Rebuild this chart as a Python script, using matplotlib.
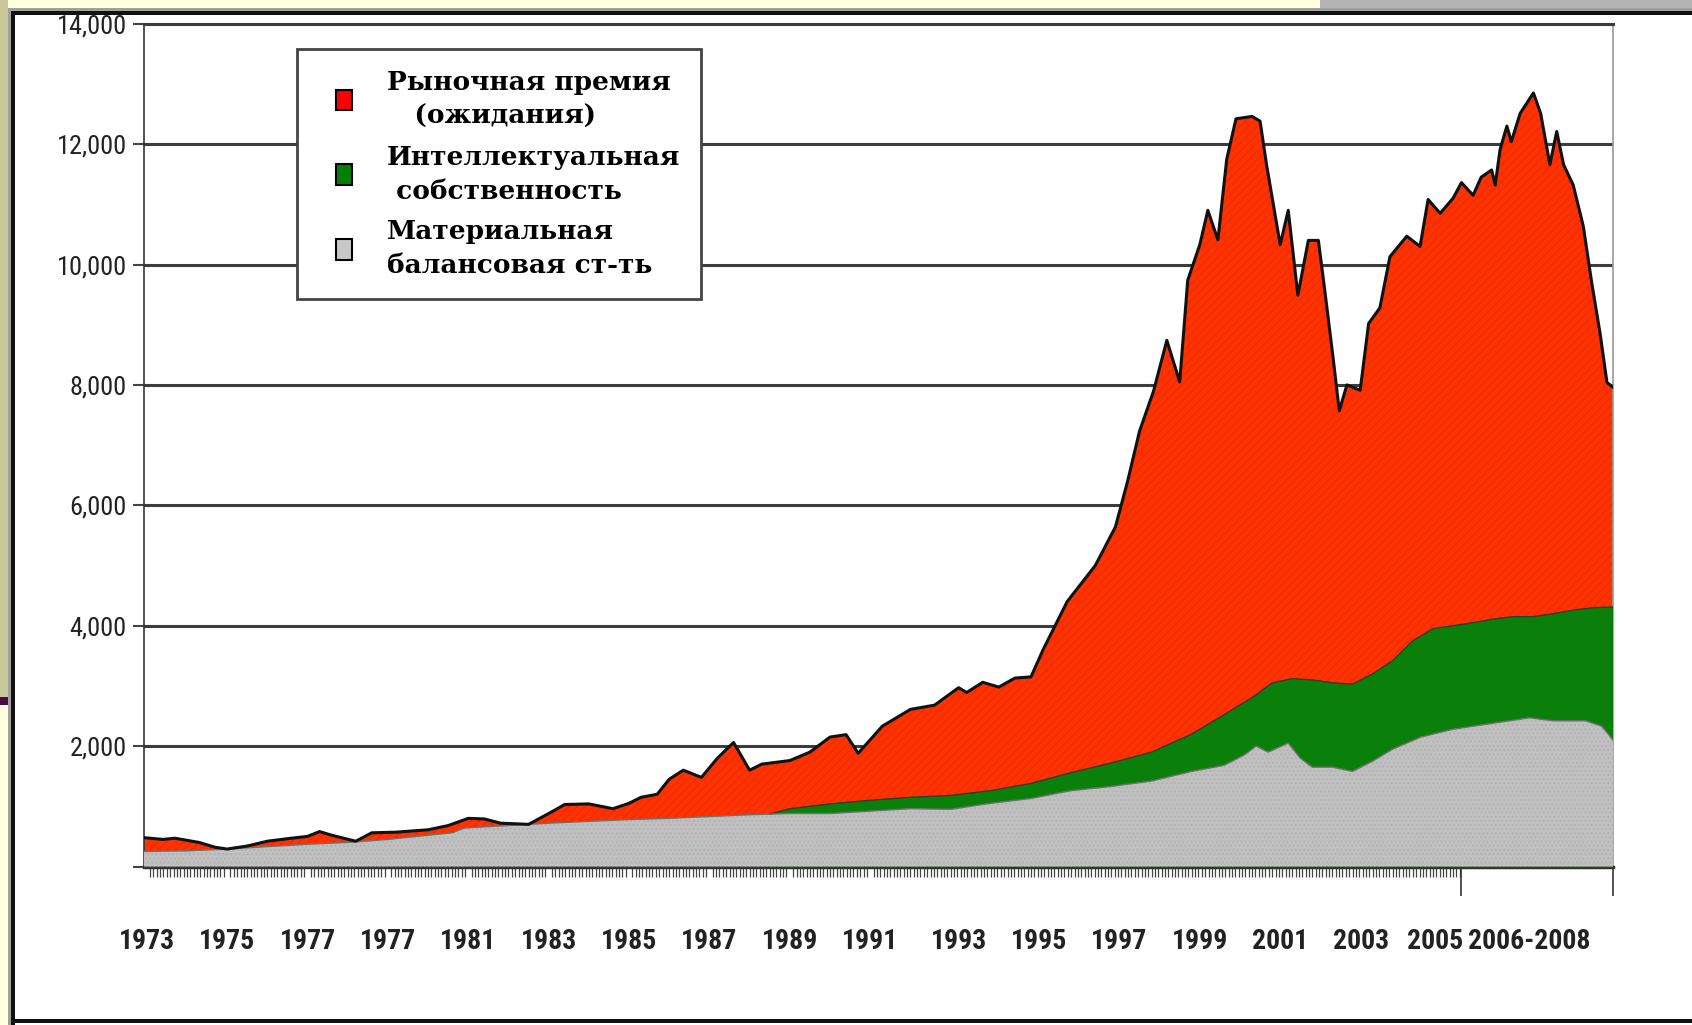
import numpy as np
import matplotlib.pyplot as plt
from matplotlib.patches import Patch, Rectangle
from matplotlib.legend_handler import HandlerPatch
from matplotlib.ticker import FuncFormatter

# Верхняя граница всей капитализации (красный слой)
total_years = [1972.92, 1973.4, 1973.7, 1974.3, 1974.7, 1975.0, 1975.5, 1976.0, 1976.6, 1977.0,
               1977.3, 1977.6, 1978.2, 1978.6, 1979.2, 1980.0, 1980.5, 1981.0, 1981.4, 1981.8,
               1982.5, 1983.0, 1983.4, 1984.0, 1984.6, 1985.0, 1985.3, 1985.7, 1986.0, 1986.35,
               1986.8, 1987.2, 1987.6, 1988.0, 1988.3, 1989.0, 1989.5, 1990.0, 1990.4, 1990.7,
               1991.3, 1992.0, 1992.6, 1993.2, 1993.4, 1993.8, 1994.2, 1994.6, 1995.0, 1995.3,
               1995.9, 1996.6, 1997.1, 1997.4, 1997.7, 1998.05, 1998.38, 1998.7, 1998.9, 1999.2,
               1999.4, 1999.65, 1999.87, 2000.1, 2000.5, 2000.7, 2000.86, 2001.2, 2001.4, 2001.64,
               2001.9, 2002.15, 2002.3, 2002.52, 2002.67, 2002.86, 2003.19, 2003.4, 2003.68, 2003.93,
               2004.35, 2004.68, 2004.88, 2005.18, 2005.5, 2005.71, 2006.0, 2006.2, 2006.46, 2006.55,
               2006.67, 2006.84, 2006.95, 2007.17, 2007.5, 2007.68, 2007.91, 2008.08, 2008.25, 2008.49,
               2008.74, 2008.95, 2009.16, 2009.33, 2009.48]
total_vals = [480, 450, 470, 400, 320, 290, 340, 420, 470, 500,
              580, 520, 420, 560, 570, 610, 680, 800, 790, 720,
              700, 880, 1030, 1040, 960, 1050, 1150, 1200, 1450, 1600,
              1480, 1800, 2060, 1600, 1700, 1760, 1900, 2150, 2190, 1880,
              2330, 2610, 2680, 2970, 2890, 3060, 2980, 3130, 3150, 3600,
              4400, 5000, 5640, 6390, 7230, 7900, 8740, 8050, 9740, 10330,
              10900, 10410, 11750, 12420, 12460, 12380, 11660, 10330, 10900, 9490,
              10400, 10400, 9620, 8430, 7570, 8000, 7910, 9020, 9280, 10130,
              10470, 10300, 11080, 10850, 11100, 11360, 11150, 11450, 11570, 11320,
              11910, 12300, 12040, 12510, 12850, 12510, 11660, 12210, 11660, 11320,
              10640, 9700, 8850, 8040, 7960]

# Материальная + интеллектуальная (верх зелёного слоя)
ip_years = [1988.5, 1989.0, 1990.0, 1991.0, 1992.0, 1993.0, 1994.0, 1995.0, 1996.0, 1997.0,
            1998.0, 1999.0, 2000.0, 2000.6, 2001.0, 2001.5, 2002.0, 2002.5, 2003.0, 2003.5,
            2004.0, 2004.5, 2005.0, 2005.5, 2006.0, 2006.5, 2007.0, 2007.5, 2008.0, 2008.5,
            2009.0, 2009.48]
ip_vals = [870, 960, 1040, 1100, 1150, 1180, 1260, 1380, 1560, 1720,
           1900, 2200, 2600, 2850, 3050, 3120, 3100, 3050, 3030, 3200,
           3420, 3750, 3950, 4000, 4050, 4110, 4150, 4150, 4200, 4260,
           4300, 4310]

# Материальная балансовая стоимость (серый слой)
tang_years = [1972.92, 1974.0, 1975.0, 1976.0, 1977.0, 1978.0, 1979.0, 1980.0, 1980.6, 1980.9,
              1982.0, 1983.0, 1984.0, 1985.0, 1986.0, 1987.0, 1988.0, 1989.0, 1990.0, 1991.0,
              1992.0, 1993.0, 1994.0, 1995.0, 1996.0, 1997.0, 1998.0, 1999.0, 1999.8, 2000.3,
              2000.6, 2000.9, 2001.4, 2001.7, 2002.0, 2002.5, 2003.0, 2003.5, 2004.0, 2004.7,
              2005.5, 2006.5, 2007.4, 2008.0, 2008.8, 2009.2, 2009.48]
tang_vals = [250, 260, 290, 330, 370, 400, 450, 520, 560, 640,
             680, 720, 750, 780, 800, 830, 860, 880, 880, 920,
             960, 950, 1050, 1130, 1260, 1330, 1420, 1580, 1680, 1850,
             2000, 1900, 2050, 1800, 1650, 1650, 1580, 1750, 1950, 2150,
             2280, 2380, 2470, 2420, 2420, 2330, 2100]

tick_pos = [1973.0, 1975.0, 1977.0, 1979.0, 1981.0, 1983.0, 1985.0, 1987.0, 1989.0,
            1991.0, 1993.2, 1995.2, 1997.2, 1999.2, 2001.2, 2003.2, 2005.05, 2007.4]
tick_labels = ['1973', '1975', '1977', '1977', '1981', '1983', '1985', '1987', '1989',
               '1991', '1993', '1995', '1997', '1999', '2001', '2003', '2005', '2006-2008']

legend_labels = ['Рыночная премия\n   (ожидания)',
                 'Интеллектуальная\n собственность',
                 'Материальная\nбалансовая ст-ть']

W, H = 1692, 1025
fig = plt.figure(figsize=(W / 100, H / 100), dpi=100)
fig.patch.set_facecolor('white')


def px_rect(x, y, w, h, color, z=0):
    # прямоугольник в пикселях (от верхнего левого угла)
    fig.add_artist(Rectangle((x / W, 1 - (y + h) / H), w / W, h / H,
                             transform=fig.transFigure, facecolor=color,
                             edgecolor='none', zorder=z))


# рамка слайда
px_rect(0, 0, 8, 697, '#c8c898')
px_rect(0, 697, 8, 8, '#4a0a42')
px_rect(0, 705, 8, 320, '#ffffe0')
px_rect(8, 0, 1312, 8, '#ffffe0')
px_rect(1320, 0, 372, 8, '#b4b4b4')
px_rect(8, 8, 1684, 3, '#a0a0a0')
px_rect(8, 8, 3, 1017, '#a0a0a0')
px_rect(11, 11, 1681, 4, '#111111')
px_rect(11, 11, 4, 1014, '#111111')
px_rect(11, 1019, 1681, 4, '#111111')

ax = fig.add_axes([143.5 / W, 1 - 866.5 / H, (1613 - 143.5) / W, (866.5 - 23.7) / H])

ax.fill_between(total_years, 0, total_vals, facecolor='#ff3300', edgecolor='#f02c00',
                hatch='////', lw=0, zorder=2)
ax.plot(total_years, total_vals, color='#111111', lw=2.2, zorder=6)
ax.fill_between(ip_years, 0, ip_vals, facecolor='#0a800a', lw=0, zorder=3)
ax.plot(ip_years, ip_vals, color='#2b3d2b', lw=1.0, zorder=5)
ax.fill_between(tang_years, 0, tang_vals, facecolor='#c0c0c0', edgecolor='#b2b2b2',
                hatch='....', lw=0, zorder=4)
ax.plot(tang_years, tang_vals, color='#707070', lw=1.0, zorder=5)

ax.set_xlim(1972.92, 2009.48)
ax.set_ylim(0, 14000)

narrow = ['Liberation Sans Narrow', 'Roboto Condensed', 'Liberation Sans', 'DejaVu Sans']
ax.set_yticks(range(0, 14001, 2000))
ax.yaxis.set_major_formatter(FuncFormatter(lambda v, p: '' if v == 0 else f'{v:,.0f}'))
for lab in ax.get_yticklabels():
    lab.set_fontfamily(narrow)
    lab.set_fontsize(19)
ax.tick_params(axis='y', length=8, width=1.5, color='#444444', pad=4, labelcolor='#222222')
ax.grid(axis='y', color='#3c3c3c', lw=2.2)
ax.set_axisbelow(True)

ax.set_xticks(tick_pos, tick_labels, fontfamily=narrow,
              fontsize=20, fontweight='bold', color='#222222')
ax.set_xticks(np.arange(1973, 2005.7, 1 / 12), minor=True)
ax.tick_params(axis='x', which='major', length=0, pad=44)
ax.tick_params(axis='x', which='minor', length=7, width=0.9, color='#444444')
ax.vlines([2005.7, 2009.48], -0.035, 0, transform=ax.get_xaxis_transform(),
          colors='#333333', lw=1.2, clip_on=False)

ax.spines['top'].set_color('#3c3c3c')
ax.spines['top'].set_linewidth(2.2)
ax.spines['right'].set_color('#999999')
ax.spines['right'].set_linewidth(1.2)
ax.spines['left'].set_color('#333333')
ax.spines['left'].set_linewidth(1.2)
ax.spines['bottom'].set_color('#333333')
ax.spines['bottom'].set_linewidth(2.5)


def small_square(legend, orig_handle, xdescent, ydescent, width, height, fontsize):
    # квадратик у правого края области маркера
    return Rectangle((width - 12 - xdescent, -ydescent + (height - 15) / 2), 12, 15)


handles = [Patch(facecolor='#ff0000', edgecolor='black', lw=1.5),
           Patch(facecolor='#008000', edgecolor='black', lw=1.5),
           Patch(facecolor='#c8c8c8', edgecolor='black', lw=1.5)]
leg = ax.legend(handles, legend_labels, loc='upper left', bbox_to_anchor=(0.1045, 0.9705),
                prop={'family': 'DejaVu Serif', 'weight': 'bold', 'size': 19},
                frameon=True, fancybox=False, edgecolor='#444444', framealpha=1,
                borderpad=0.8, labelspacing=0.6, handlelength=1.3, handleheight=0.8,
                handletextpad=1.3, borderaxespad=0,
                handler_map={Patch: HandlerPatch(patch_func=small_square)})
for t in leg.get_texts():
    t.set_linespacing(1.45)
leg.get_frame().set_linewidth(2)
leg.set_zorder(10)

fig.savefig('out.png', dpi=100)
